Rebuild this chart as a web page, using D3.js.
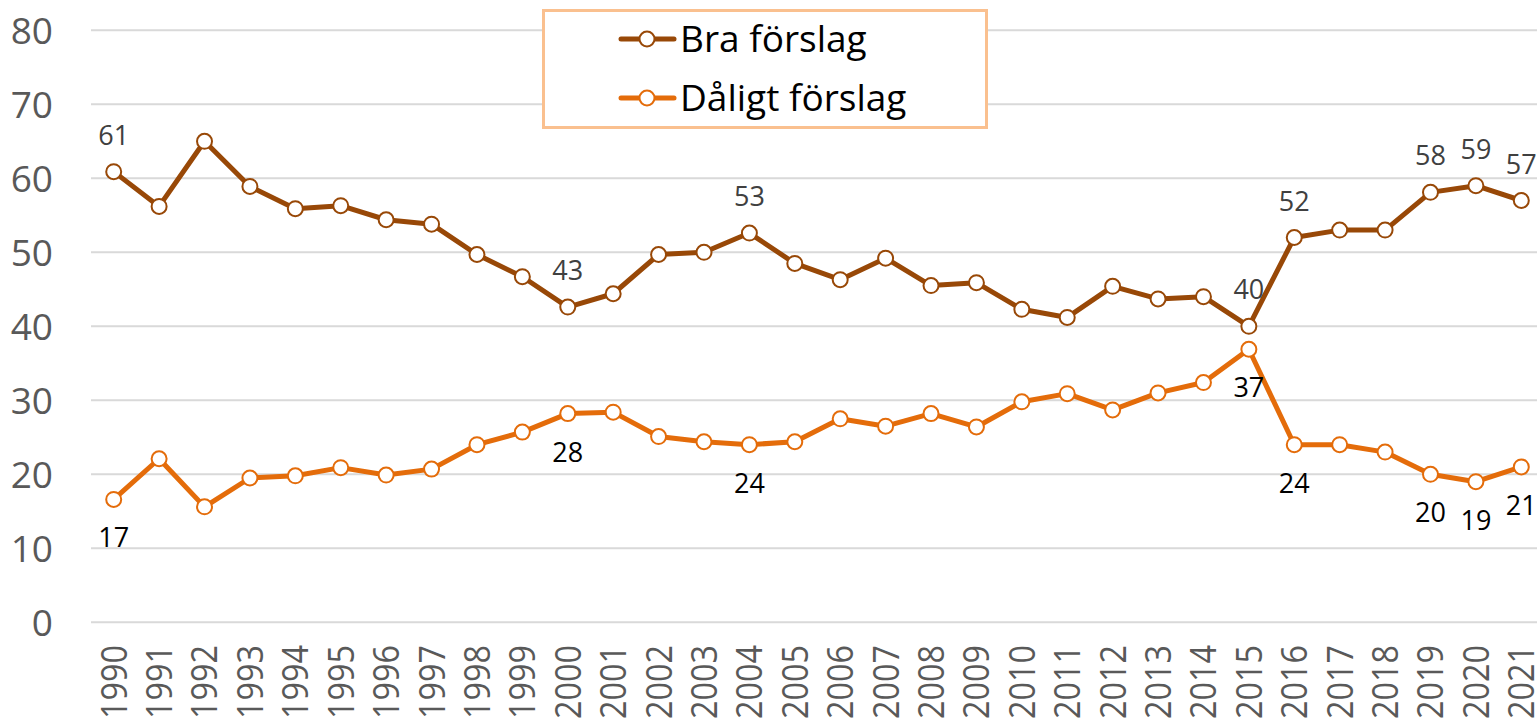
<!DOCTYPE html>
<html>
<head>
<meta charset="utf-8">
<script src="https://cdn.jsdelivr.net/npm/d3@7"></script>
<style>
  html, body { margin: 0; padding: 0; background: #fff; }
  svg { display: block; font-family: 'Open Sans', 'Noto Sans', sans-serif; }
</style>
</head>
<body>
<div id="chart"></div>
<script>
const years = d3.range(1990, 2022);
const bra = [60.9, 56.2, 65.0, 58.9, 55.9, 56.3, 54.4, 53.8, 49.7, 46.7, 42.6, 44.4,
  49.7, 50.0, 52.6, 48.5, 46.3, 49.2, 45.5, 45.9, 42.3, 41.2, 45.4, 43.7, 44.0,
  40.0, 52.0, 53.0, 53.0, 58.1, 59.0, 57.0];
const daligt = [16.6, 22.1, 15.6, 19.5, 19.8, 20.9, 19.9, 20.7, 24.0, 25.7, 28.2, 28.4,
  25.1, 24.4, 24.0, 24.4, 27.5, 26.5, 28.2, 26.4, 29.8, 30.9, 28.7, 31.0, 32.4,
  36.9, 24.0, 24.0, 23.0, 20.0, 19.0, 21.0];
const labelYears = [1990, 2000, 2004, 2015, 2016, 2019, 2020, 2021];
const yTicks = [0, 10, 20, 30, 40, 50, 60, 70, 80];

const series = [
  {name: 'Bra förslag', values: bra, color: '#984807', labelColor: '#404040', dy: -27},
  {name: 'Dåligt förslag', values: daligt, color: '#E46C0A', labelColor: '#000', dy: 48}
];

const width = 1537, height = 723;

const svg = d3.select('#chart').append('svg')
  .attr('width', width).attr('height', height);

const x = d3.scaleBand().domain(years).range([91, 1544]).padding(0);
const cx = d => x(d) + x.bandwidth() / 2;
const y = d3.scaleLinear().domain([0, 80]).range([622.3, 30.3]);

// gridlines
svg.append('g').selectAll('line')
  .data(yTicks)
  .enter().append('line')
    .attr('x1', 91).attr('x2', width)
    .attr('y1', d => y(d)).attr('y2', d => y(d))
    .attr('stroke', '#d9d9d9').attr('stroke-width', 2);

// y labels
svg.append('g').selectAll('text')
  .data(yTicks)
  .enter().append('text')
    .attr('x', 53).attr('y', d => y(d))
    .attr('dy', '0.36em')
    .attr('text-anchor', 'end')
    .attr('font-size', 37)
    .attr('fill', '#595959')
    .text(d => d);

// x labels (narrow, so they end just above the bottom edge)
svg.append('g').selectAll('text')
  .data(years)
  .enter().append('text')
    .attr('transform', d => `translate(${cx(d)},645) rotate(-90)`)
    .attr('dy', '0.36em')
    .attr('text-anchor', 'end')
    .attr('font-size', 36)
    .attr('textLength', 74)
    .attr('lengthAdjust', 'spacingAndGlyphs')
    .attr('fill', '#595959')
    .text(d => d);

const line = d3.line()
  .x(d => cx(d.year))
  .y(d => y(d.value));

series.forEach(s => {
  const pts = years.map((yr, i) => ({year: yr, value: s.values[i]}));
  const g = svg.append('g');

  g.append('path')
    .datum(pts)
    .attr('d', line)
    .attr('fill', 'none')
    .attr('stroke', s.color)
    .attr('stroke-width', 5)
    .attr('stroke-linejoin', 'round');

  g.selectAll('circle')
    .data(pts)
    .enter().append('circle')
      .attr('cx', d => cx(d.year))
      .attr('cy', d => y(d.value))
      .attr('r', 7.5)
      .attr('fill', '#fff')
      .attr('stroke', s.color)
      .attr('stroke-width', 2);

  g.selectAll('text')
    .data(pts.filter(d => labelYears.includes(d.year)))
    .enter().append('text')
      .attr('x', d => cx(d.year))
      .attr('y', d => y(d.value) + s.dy)
      .attr('text-anchor', 'middle')
      .attr('font-size', 27)
      .attr('fill', s.labelColor)
      .text(d => Math.round(d.value));
});

// legend
const legend = svg.append('g');
legend.append('rect')
  .attr('x', 543.5).attr('y', 10.5)
  .attr('width', 443).attr('height', 117)
  .attr('fill', '#fff')
  .attr('stroke', '#FAC08F')
  .attr('stroke-width', 3);

series.forEach((s, i) => {
  const ly = 39 + i * 59;
  legend.append('line')
    .attr('x1', 621).attr('x2', 674)
    .attr('y1', ly).attr('y2', ly)
    .attr('stroke', s.color).attr('stroke-width', 5)
    .attr('stroke-linecap', 'round');
  legend.append('circle')
    .attr('cx', 647).attr('cy', ly).attr('r', 7.5)
    .attr('fill', '#fff').attr('stroke', s.color).attr('stroke-width', 2);
  legend.append('text')
    .attr('x', 680).attr('y', ly + 13)
    .attr('font-size', 37)
    .attr('fill', '#000')
    .text(s.name);
});
</script>
</body>
</html>
